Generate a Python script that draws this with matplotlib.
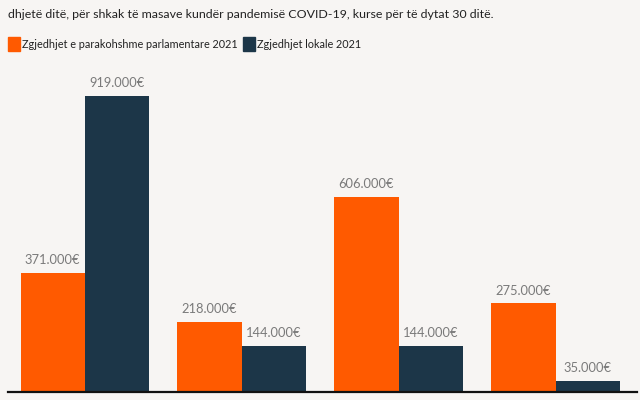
import matplotlib.pyplot as plt
import numpy as np

plt.rcParams['font.family'] = ['Lato', 'DejaVu Sans']

groups = ["1", "2", "3", "4"]
parlamentare = [371, 218, 606, 275]
lokale = [919, 144, 144, 35]
series_names = ["Zgjedhjet e parakohshme parlamentare 2021", "Zgjedhjet lokale 2021"]
subtitle = "dhjetë ditë, për shkak të masave kundër pandemisë COVID-19, kurse për të dytat 30 ditë."

bg = "#f7f5f3"
orange = "#ff5a00"
navy = "#1c3648"
label_col = "#7a7a7a"

fig = plt.figure(figsize=(6.4, 4), dpi=100, facecolor=bg)
ax = fig.add_axes([0.0125, 0.02, 0.983, 0.805], facecolor=bg)

x = np.arange(len(groups))
w = 0.41
b1 = ax.bar(x - w / 2, parlamentare, w, color=orange)
b2 = ax.bar(x + w / 2, lokale, w, color=navy)

for bars, vals in ((b1, parlamentare), (b2, lokale)):
    for bar, v in zip(bars, vals):
        ax.annotate(f"{v}.000€", (bar.get_x() + bar.get_width() / 2, v),
                    xytext=(0, 5), textcoords="offset points",
                    ha="center", va="bottom", fontsize=9.3, color=label_col)

ax.set_xlim(-0.49, 3.52)
ax.set_ylim(0, 1000)
for s in ["top", "right", "left"]:
    ax.spines[s].set_visible(False)
ax.spines["bottom"].set_linewidth(1.6)
ax.spines["bottom"].set_color("#111111")
ax.set_xticks([])
ax.set_yticks([])

fig.text(0.0125, 0.963, subtitle, fontsize=8.9, color="#222222", va="center")

# legend
fig.patches.append(plt.Rectangle((8 / 640, 1 - 51 / 400), 12 / 640, 14 / 400,
                                 transform=fig.transFigure, color=orange))
fig.text(22 / 640, 1 - 44 / 400, series_names[0], fontsize=7.8, color="#222222", va="center")
fig.patches.append(plt.Rectangle((243 / 640, 1 - 51 / 400), 12 / 640, 14 / 400,
                                 transform=fig.transFigure, color=navy))
fig.text(257 / 640, 1 - 44 / 400, series_names[1], fontsize=7.8, color="#222222", va="center")

fig.savefig("out.png", dpi=100, facecolor=bg)
